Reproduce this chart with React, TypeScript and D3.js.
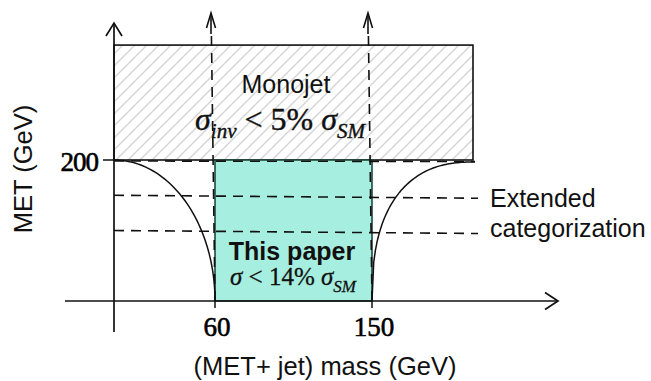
import React from "react";
import * as d3 from "d3";

// Schematic data (mass in GeV on x, MET in GeV on y)
const massKnots = [0, 60, 150, 210];
const metLevels = [200, 150, 100];
const xTickValues = [60, 150];
const xTickLabels = ["60", "150"];
const yTickValues = [200];
const yTickLabels = ["200"];
const monojetBox = [0, 210, 200, 363]; // mass0, mass1, met0, met1
const thisPaperBox = [60, 150, 0, 200];
const sideLabels = ["Extended", "categorization"];

const W = 651;
const H = 381;

export default function App() {
  const x = d3.scaleLinear().domain(massKnots).range([114, 215, 372, 473]);
  const y = d3.scaleLinear().domain([0, 200]).range([301, 160]);

  const sans = "'Liberation Sans', Arial, sans-serif";
  const serif = "'Liberation Serif', 'Times New Roman', serif";
  const dash = "10,7";

  const line = d3.line<[number, number]>().curve(d3.curveLinear);
  const N = 60;
  // left curve: quarter ellipse centred at (x(0), y(0))
  const leftPts: [number, number][] = d3.range(N + 1).map((i) => {
    const t = (i / N) * Math.PI / 2;
    const a = x(60) - x(0);
    const b = y(0) - y(200);
    return [x(0) + a * Math.sin(t), y(0) - b * Math.cos(t)];
  });
  const p = 2.5;
  const rightPts: [number, number][] = d3.range(N + 1).map((i) => {
    const u = i / N;
    const a = x(210) - x(150) + 2;
    const b = y(0) - y(200) - 2;
    const f = 1 - Math.pow(1 - Math.pow(1 - u, p), 1 / p);
    return [x(150) + a * u, y(200) + 2 + b * f];
  });

  const axisY = y(0);
  const axisX = x(0);
  const xEnd = 558;
  const yTop = 23;
  const arrowTop = 13;

  return (
    <svg width={W} height={H} style={{ position: "absolute", left: 0, top: 0, background: "#fff" }}>
      <defs>
        <pattern id="hatch" patternUnits="userSpaceOnUse" width={12} height={12}>
          <path d="M-3,3 L3,-3 M0,12 L12,0 M9,15 L15,9" stroke="#d4d4d4" strokeWidth={1.4} />
        </pattern>
      </defs>
      <rect width={W} height={H} fill="#fff" />

      {/* Monojet box */}
      <rect
        x={x(monojetBox[0])}
        y={y(monojetBox[3])}
        width={x(monojetBox[1]) - x(monojetBox[0])}
        height={y(monojetBox[2]) - y(monojetBox[3])}
        fill="url(#hatch)"
        stroke="#111"
        strokeWidth={1.6}
      />

      {/* This paper box */}
      <rect
        x={x(thisPaperBox[0])}
        y={y(thisPaperBox[3])}
        width={x(thisPaperBox[1]) - x(thisPaperBox[0])}
        height={y(thisPaperBox[2]) - y(thisPaperBox[3])}
        fill="#a6eedf"
        stroke="#1d4a3e"
        strokeWidth={1.6}
      />

      {/* curves */}
      <path d={line(leftPts) || ""} fill="none" stroke="#111" strokeWidth={1.5} />
      <path d={line(rightPts) || ""} fill="none" stroke="#111" strokeWidth={1.5} />

      {/* horizontal dashed MET levels */}
      {metLevels.map((m, i) => (
        <line
          key={m}
          x1={axisX}
          x2={i === 0 ? 475 : 478}
          y1={y(m) + (i === 0 ? 1 : 0)}
          y2={y(m) + (i === 0 ? 1.5 : 3)}
          stroke="#111"
          strokeWidth={1.6}
          strokeDasharray={dash}
        />
      ))}

      {/* vertical dashed lines with arrows */}
      {xTickValues.map((v) => {
        const xb = x(v);
        const xt = xb - 4;
        return (
          <g key={v}>
            <line x1={xb} y1={axisY} x2={xt + 0.4} y2={34} stroke="#111" strokeWidth={1.6} strokeDasharray={dash} />
            <line x1={xt} y1={arrowTop} x2={xt} y2={34} stroke="#111" strokeWidth={1.6} />
            <polyline
              points={`${xt - 4.5},${arrowTop + 15} ${xt},${arrowTop} ${xt + 4.5},${arrowTop + 15}`}
              fill="none"
              stroke="#111"
              strokeWidth={1.6}
            />
          </g>
        );
      })}

      {/* axes */}
      <line x1={65} y1={axisY} x2={xEnd} y2={axisY} stroke="#111" strokeWidth={1.7} />
      <polyline
        points={`${xEnd - 13},${axisY - 8.5} ${xEnd},${axisY} ${xEnd - 13},${axisY + 8.5}`}
        fill="none"
        stroke="#111"
        strokeWidth={1.7}
      />
      <line x1={axisX} y1={332} x2={axisX} y2={yTop} stroke="#111" strokeWidth={1.7} />
      <polyline
        points={`${axisX - 8},${yTop + 13} ${axisX},${yTop} ${axisX + 8},${yTop + 13}`}
        fill="none"
        stroke="#111"
        strokeWidth={1.7}
      />

      {/* ticks */}
      {xTickValues.map((v, i) => (
        <g key={v}>
          <line x1={x(v)} x2={x(v)} y1={axisY} y2={axisY + 7} stroke="#111" strokeWidth={1.5} />
          <text
            x={x(v) + 2}
            y={336}
            textAnchor="middle"
            fontFamily={serif}
            fontSize={27}
            fill="#000"
            stroke="#000"
            strokeWidth={0.6}
          >
            {xTickLabels[i]}
          </text>
        </g>
      ))}
      {yTickValues.map((v, i) => (
        <g key={v}>
          <line x1={103} x2={axisX} y1={y(v)} y2={y(v)} stroke="#111" strokeWidth={1.5} />
          <text
            x={98}
            y={y(v) + 11}
            textAnchor="end"
            fontFamily={serif}
            fontSize={27}
            fill="#000"
            stroke="#000"
            strokeWidth={0.6}
            letterSpacing={-1}
          >
            {yTickLabels[i]}
          </text>
        </g>
      ))}

      {/* box labels */}
      <text x={286} y={93} textAnchor="middle" fontFamily={sans} fontSize={25} fill="#111">
        Monojet
      </text>
      <text x={280} y={130} textAnchor="middle" fontFamily={serif} fontSize={32} fill="#111" stroke="#111" strokeWidth={0.4}>
        <tspan fontStyle="italic">σ</tspan>
        <tspan fontStyle="italic" fontSize={21} dy={8}>inv</tspan>
        <tspan dy={-8}> &lt; 5% </tspan>
        <tspan fontStyle="italic">σ</tspan>
        <tspan fontStyle="italic" fontSize={21} dy={8}>SM</tspan>
      </text>

      <text x={292} y={260} textAnchor="middle" fontFamily={sans} fontSize={25} fontWeight="bold" fill="#111">
        This paper
      </text>
      <text x={293} y={285} textAnchor="middle" fontFamily={serif} fontSize={25} fill="#111" stroke="#111" strokeWidth={0.3}>
        <tspan fontStyle="italic">σ</tspan>
        <tspan> &lt; 14% </tspan>
        <tspan fontStyle="italic">σ</tspan>
        <tspan fontStyle="italic" fontSize={17} dy={7}>SM</tspan>
      </text>

      {/* side labels */}
      <text x={490} y={207} fontFamily={sans} fontSize={25} fill="#111">
        {sideLabels[0]}
      </text>
      <text x={490} y={237} fontFamily={sans} fontSize={25} fill="#111">
        {sideLabels[1]}
      </text>

      {/* axis titles */}
      <text
        transform={`translate(32,169) rotate(-90)`}
        textAnchor="middle"
        fontFamily={sans}
        fontSize={25.5}
        fill="#111"
      >
        MET (GeV)
      </text>
      <text x={325} y={375} textAnchor="middle" fontFamily={sans} fontSize={25.5} fill="#111">
        (MET+ jet) mass (GeV)
      </text>
    </svg>
  );
}
